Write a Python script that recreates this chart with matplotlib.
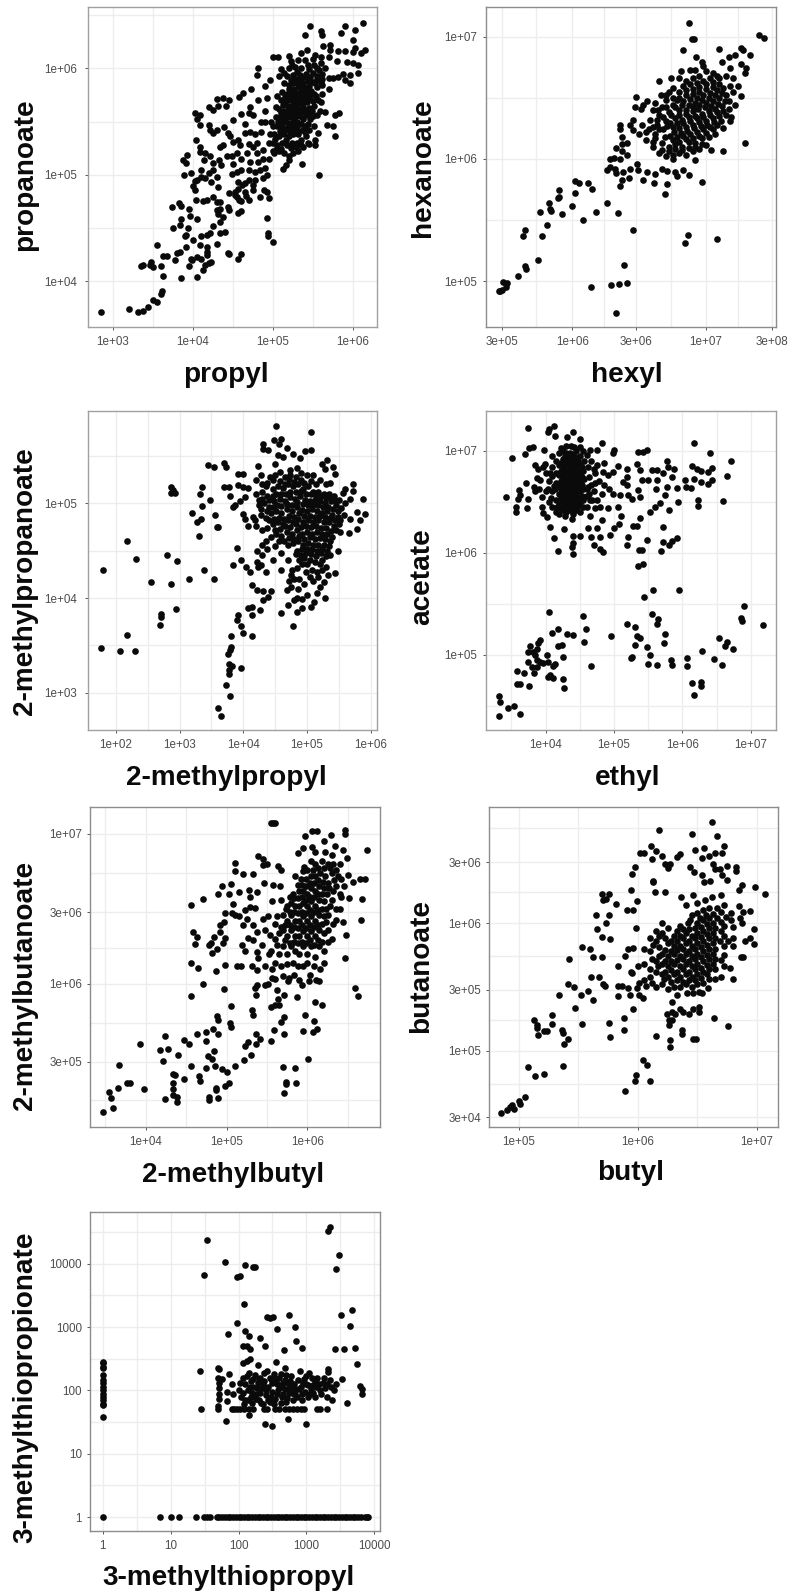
import numpy as np
import matplotlib
matplotlib.use('Agg')
import matplotlib.pyplot as plt

plt.rcParams['font.family'] = ['Liberation Sans', 'DejaVu Sans']

# all readings are log10(abundance), x then y
propyl_propanoate = [
    (2.85,3.71),(3.2,3.74),(3.32,3.71),(3.375,3.72),(3.44,3.76),(3.5,3.82),(3.55,3.8),(3.6,3.88),(3.62,3.91),(3.63,4.05),
    (3.36,4.14),(3.38,4.15),(3.475,4.18),(3.47,4.15),(3.51,4.13),(3.6,4.14),(3.63,4.235),(3.675,4.235),(3.55,4.335),(3.85,4.03),
    (3.78,4.2),(3.8,4.26),(3.84,4.275),(3.92,4.32),(3.95,4.14),(3.99,4.2),(3.98,4.21),(4.05,4.04),(4.05,4.23),(4.11,4.21),
    (4.13,4.1),(4.15,4.15),(4.21,4.17),(4.225,4.18),(4.09,4.34),(4.175,4.32),(4.18,4.275),(4.18,4.245),(4.3,4.345),(4.445,4.265),
    (4.46,4.25),(4.57,4.21),(4.61,4.255),(4.0,4.385),(3.92,4.43),(3.9,4.42),(3.76,4.5),(3.84,4.53),(3.855,4.58),(3.94,4.5),
    (3.97,4.61),(4.05,4.58),(3.95,4.68),(3.74,4.7),(3.83,4.73),(3.86,4.71),(4.04,4.76),(4.13,4.75),(4.18,4.76),(4.26,4.79),
    (4.3,4.745),(4.34,4.745),(4.3,4.67),(4.34,4.68),(4.32,4.635),(4.38,4.6),(4.34,4.56),(4.25,4.52),(4.11,4.42),(4.175,4.43),
    (4.22,4.45),(4.34,4.45),(4.4,4.46),(4.445,4.7),(4.46,4.67),(4.57,4.64),(4.61,4.66),(4.46,4.83),(4.53,4.84),(4.55,4.79),
    (4.58,4.76),(4.65,4.84),(4.7,4.76),(4.84,4.79),(4.95,4.78),(4.89,4.855),(4.925,4.84),(4.925,4.59),(4.94,4.455),(4.94,4.42),
    (5.01,4.365),(5.58,5.0),(5.37,5.1),(5.13,5.05),(5.17,5.09),(5.21,5.14),(5.78,5.36),(3.925,5.19),(3.88,5.14),(3.92,5.11),
    (3.89,5.0),(3.975,5.02),(4.05,4.95),(4.03,4.94),(4.0,4.89),(4.03,4.855),(4.11,5.04),(4.11,4.98),(4.2,5.02),(4.26,5.04),
    (4.23,4.93),(4.31,4.98),(4.32,4.88),(4.15,4.965),(4.04,5.325),(4.09,5.26),(4.09,5.21),(4.15,5.2),(4.14,5.14),(4.22,5.18),
    (4.25,5.11),(4.33,5.14),(4.36,5.09),(4.34,5.26),(4.38,5.28),(4.425,5.18),(4.49,5.18),(4.57,5.325),(4.47,5.36),(4.51,5.31),
    (4.03,5.58),(4.09,5.56),(4.05,5.52),(4.09,5.47),(4.2,5.47),(4.22,5.42),(4.26,5.39),(4.3,5.42),(4.39,5.445),(4.445,5.39),
    (4.2,5.64),(4.26,5.61),(4.32,5.645),(4.31,5.71),(4.375,5.72),(4.46,5.7),(4.42,5.645),(4.51,5.51),(4.6,5.57),(4.58,5.73),
    (4.625,5.77),(4.725,5.81),(4.81,5.94),(4.82,6.0),(4.72,5.64),(4.7,5.58),(4.65,5.48),(4.76,5.56),(4.82,5.7),(4.925,5.72),
    (4.9,5.83),(4.97,5.89),(5.01,6.11),(5.07,6.11),(4.65,5.39),(4.72,5.4),(4.7,5.29),(4.59,5.28),(4.675,5.2),(4.76,5.26),
    (4.8,5.2),(4.88,5.23),(4.88,5.15),(4.72,5.12),(4.7,5.04),(4.78,5.03),(4.9,5.06),(4.84,5.04),(4.49,5.01),(4.55,5.03),
    (4.61,5.04),(4.7,4.95),(4.78,4.95),(4.88,4.965),(4.925,5.0),(4.65,4.92),(4.57,4.935),(4.76,4.855),(4.57,4.87),(4.53,4.81),
    (5.47,6.4),(5.4,6.31),(5.6,6.355),(5.62,6.31),(5.9,6.4),(5.86,6.335),(6.025,6.365),(6.13,6.43),(6.0,6.27),(6.15,6.17),
    (6.03,6.19),(6.01,6.15),(6.1,6.14),(5.63,6.21),(5.72,6.22),(5.72,6.17),(5.82,6.16),(5.9,6.16),(5.43,6.17),(5.53,6.125),
    (5.61,6.11),(5.7,6.11),(5.8,6.07),(5.925,6.06),(6.01,6.05),(6.07,6.03),(6.07,5.96),(5.97,5.94),(5.97,5.86),(5.88,5.95),
    (5.82,5.92),(5.9,5.89),(5.7,5.91),(5.76,5.91),(5.7,5.81),(5.78,5.56),(5.83,5.58),(5.65,5.59),(5.59,5.6),(5.55,5.56),
    (5.675,5.47),(5.76,5.46),(5.57,5.395),(5.53,5.325),(5.45,5.285),(5.53,5.28),
    (5.02,5.2),(5.08,5.22),(5.14,5.2),(5.2,5.18),(5.26,5.2),(5.32,5.22),(5.38,5.26),(5.44,5.3),(5.0,5.3),(5.06,5.28),
    (5.12,5.3),(5.18,5.28),(5.24,5.3),(5.3,5.3),(5.36,5.33),(5.42,5.36),(5.02,5.38),(5.08,5.36),(5.14,5.38),(5.2,5.36),
    (5.26,5.38),(5.32,5.38),(5.38,5.42),(5.46,5.42),(5.0,5.46),(5.06,5.46),(5.12,5.46),(5.18,5.44),(5.24,5.46),(5.3,5.46),
    (5.36,5.48),(5.44,5.48),(5.52,5.46),(5.04,5.54),(5.1,5.54),(5.16,5.52),(5.22,5.54),(5.28,5.54),(5.34,5.55),(5.42,5.56),
    (5.5,5.55),(5.08,5.62),(5.14,5.6),(5.2,5.62),(5.26,5.62),(5.32,5.62),(5.38,5.64),(5.45,5.63),(5.52,5.65),(5.6,5.68),
    (5.1,5.7),(5.16,5.68),(5.22,5.7),(5.28,5.7),(5.34,5.7),(5.4,5.72),(5.47,5.71),(5.54,5.74),(5.62,5.76),(5.12,5.78),
    (5.18,5.76),(5.24,5.78),(5.3,5.77),(5.36,5.78),(5.42,5.8),(5.48,5.79),(5.55,5.82),(5.62,5.84),(5.14,5.86),(5.2,5.84),
    (5.26,5.86),(5.32,5.85),(5.38,5.86),(5.44,5.88),(5.5,5.87),(5.56,5.9),(5.62,5.9),(5.08,5.93),(5.18,5.93),(5.26,5.94),
    (5.34,5.94),(5.42,5.95),(5.5,5.96),(5.58,5.98),(5.66,6.0),(5.1,5.99),(5.2,6.0),(5.28,6.01),(5.36,6.0),(5.44,6.03),
    (5.52,6.03),(5.6,6.05),(5.23,6.07),(5.32,6.08),(5.4,6.08),(5.5,6.09),(5.2,6.12),(5.36,6.14),
    (5.05,5.25),(5.11,5.24),(5.17,5.33),(5.23,5.25),(5.29,5.26),(5.35,5.28),(5.41,5.4),(5.03,5.34),(5.09,5.41),(5.16,5.42),
    (5.22,5.41),(5.27,5.43),(5.33,5.41),(5.4,5.46),(5.47,5.52),(5.07,5.5),(5.13,5.5),(5.19,5.49),(5.25,5.5),(5.31,5.5),
    (5.38,5.52),(5.46,5.58),(5.11,5.58),(5.17,5.57),(5.23,5.58),(5.29,5.58),(5.35,5.59),(5.41,5.6),(5.49,5.6),(5.13,5.66),
    (5.19,5.65),(5.25,5.66),(5.31,5.66),(5.37,5.67),(5.43,5.68),(5.5,5.69),(5.57,5.7),(5.15,5.73),(5.21,5.73),(5.27,5.74),
    (5.33,5.74),(5.39,5.75),(5.45,5.75),(5.52,5.76),(5.2,5.81),(5.27,5.81),(5.33,5.82),(5.39,5.82),(5.46,5.83),(5.53,5.86),
    (5.6,5.87),(5.23,5.89),(5.29,5.9),(5.36,5.9),(5.41,5.92),(5.47,5.92),(5.55,5.93),(5.62,5.95),(5.14,5.96),(5.3,5.97),
    (5.46,5.99),(5.24,6.03),(5.56,6.0),(5.0,5.22),(4.97,5.38),(4.98,5.5),(5.04,5.64),(5.06,5.74),(4.5,5.1),(4.6,5.15),
    (4.8,5.3),(4.85,5.4),(4.9,5.5),(4.95,5.3),(4.55,5.2),(4.82,5.12),(4.95,5.15),(4.85,5.5),(4.9,5.6),(4.78,5.38),
    (4.62,4.9),(4.67,4.8),(4.6,4.75),(4.75,4.9),
]

hexyl_hexanoate = [
    (5.45,4.92),(5.46,4.92),(5.47,4.93),(5.48,4.99),(5.51,4.98),(5.505,4.95),(5.59,5.04),(5.645,5.125),(5.655,5.1),(5.74,5.17),
    (5.63,5.37),(5.645,5.415),(5.77,5.37),(5.81,5.46),(5.76,5.565),(5.84,5.575),(5.825,5.64),(5.92,5.55),(5.9,5.69),(5.9,5.745),
    (5.83,5.59),(5.89,5.68),(6.0,5.615),(6.02,5.72),(6.02,5.82),(6.05,5.805),(6.115,5.805),(6.15,5.75),(6.08,5.5),(6.18,5.565),
    (6.26,5.64),(6.34,5.56),(6.45,5.42),(6.14,4.95),(6.29,4.965),(6.35,4.975),(6.41,4.98),(6.385,5.13),(6.33,4.74),(6.865,5.375),
    (6.84,5.31),(7.085,5.34),(6.26,5.91),(6.28,5.935),(6.32,5.92),(6.33,5.88),(6.36,5.78),(6.375,5.83),(6.42,5.84),(6.38,5.89),
    (6.43,5.92),(6.28,6.0),(6.31,6.01),(6.36,5.995),(6.33,6.085),(6.375,6.125),(6.41,6.13),(6.37,6.06),(6.41,6.03),(6.36,6.275),
    (6.36,6.24),(6.375,6.175),(6.43,6.28),(6.455,6.315),(6.475,6.505),(6.465,6.42),(6.51,6.41),(6.53,6.44),(6.56,6.475),(6.455,6.235),
    (6.48,5.96),(6.49,5.91),(6.53,5.83),(6.555,5.89),(6.61,5.8),(6.62,5.875),(6.705,5.79),(6.695,5.71),(6.67,5.915),(6.705,5.9),
    (6.77,5.895),(6.78,5.86),(6.83,5.91),(6.87,5.87),(6.97,5.81),(6.92,5.99),(6.755,5.995),(6.87,7.115),(6.895,6.98),(6.91,6.98),
    (6.83,6.89),(6.925,6.835),(6.97,6.79),(7.1,6.9),(7.12,6.79),(7.17,6.83),(7.26,6.91),(7.28,6.89),(7.33,6.85),(7.395,7.015),
    (7.43,6.99),(7.22,6.85),(7.26,6.78),(7.3,6.74),(7.29,6.705),(6.645,6.635),(7.29,6.13),(7.13,6.06),(7.26,6.51),(7.18,6.31),
    (7.19,6.34),(7.17,6.41),(7.04,6.07),(6.5,6.2),(6.55,6.15),(6.6,6.1),(6.65,6.05),(6.7,6.02),(6.75,6.03),(6.8,6.05),
    (6.85,6.03),(6.9,6.06),(6.95,6.08),(7.0,6.11),(6.52,6.28),(6.57,6.24),(6.62,6.2),(6.67,6.13),(6.72,6.1),(6.77,6.12),
    (6.82,6.1),(6.87,6.14),(6.92,6.13),(6.97,6.17),(7.02,6.18),(7.07,6.2),(6.58,6.32),(6.63,6.28),(6.68,6.24),(6.73,6.19),
    (6.78,6.18),(6.83,6.19),(6.88,6.2),(6.93,6.22),(6.98,6.24),(7.03,6.26),(7.08,6.28),(7.13,6.25),(6.6,6.4),(6.65,6.36),
    (6.7,6.31),(6.75,6.26),(6.8,6.25),(6.85,6.26),(6.9,6.28),(6.95,6.3),(7.0,6.31),(7.05,6.33),(7.1,6.35),(7.15,6.36),
    (6.62,6.46),(6.67,6.42),(6.72,6.38),(6.77,6.33),(6.82,6.32),(6.87,6.34),(6.92,6.35),(6.97,6.37),(7.02,6.39),(7.07,6.41),
    (7.12,6.43),(7.17,6.47),(7.22,6.44),(6.7,6.48),(6.75,6.44),(6.8,6.4),(6.85,6.4),(6.9,6.42),(6.95,6.44),(7.0,6.46),
    (7.05,6.47),(7.1,6.5),(7.15,6.52),(7.2,6.55),(6.66,6.52),(6.72,6.55),(6.78,6.48),(6.83,6.47),(6.88,6.49),(6.93,6.5),
    (6.98,6.52),(7.03,6.54),(7.08,6.56),(7.13,6.58),(7.18,6.6),(7.24,6.6),(6.75,6.58),(6.8,6.55),(6.85,6.56),(6.9,6.57),
    (6.95,6.59),(7.0,6.61),(7.05,6.63),(7.1,6.66),(7.15,6.68),(7.2,6.66),(6.74,6.66),(6.8,6.66),(6.85,6.64),(6.9,6.66),
    (6.95,6.68),(7.0,6.72),(7.05,6.7),(6.81,6.72),(6.88,6.73),(6.92,6.73),(6.98,6.76),(7.18,6.74),
    (6.6,6.14),(6.67,6.07),(6.72,6.06),(6.77,6.08),(6.82,6.07),(6.87,6.09),(6.92,6.1),(6.97,6.12),(6.55,6.22),(6.62,6.17),
    (6.69,6.18),(6.75,6.15),(6.8,6.14),(6.85,6.16),(6.9,6.17),(6.95,6.19),(7.0,6.21),(7.05,6.24),(6.6,6.26),(6.65,6.24),
    (6.71,6.27),(6.76,6.22),(6.81,6.21),(6.86,6.23),(6.91,6.25),(6.96,6.27),(7.01,6.28),(7.06,6.3),(7.11,6.31),(6.63,6.32),
    (6.68,6.34),(6.73,6.29),(6.78,6.29),(6.83,6.29),(6.88,6.31),(6.93,6.33),(6.98,6.34),(7.03,6.36),(7.08,6.38),(7.13,6.39),
    (6.64,6.4),(6.7,6.42),(6.74,6.36),(6.8,6.36),(6.85,6.37),(6.9,6.39),(6.94,6.41),(6.99,6.42),(7.04,6.43),(7.09,6.45),
    (7.14,6.47),(6.7,6.52),(6.77,6.42),(6.82,6.44),(6.87,6.44),(6.92,6.46),(6.97,6.48),(7.02,6.5),(7.07,6.52),(7.12,6.54),
    (6.75,6.5),(6.8,6.5),(6.85,6.52),(6.9,6.53),(6.95,6.55),(7.0,6.57),(7.05,6.59),(7.1,6.61),(6.83,6.6),(6.88,6.61),
    (6.93,6.62),(6.98,6.64),(7.03,6.66),(7.08,6.68),
]

methylpropyl_propanoate = [
    (1.76,3.475),(1.79,4.295),(2.07,3.445),(2.3,3.445),(2.18,3.61),(2.17,4.6),(2.31,4.415),(2.545,4.17),(2.8,4.45),(2.96,4.395),
    (2.86,4.15),(3.15,4.2),(3.38,4.295),(3.545,4.205),(2.94,3.885),(2.71,3.83),(2.71,3.8),(2.69,3.71),(3.3,4.66),(3.27,4.8),
    (3.33,4.835),(3.2,4.895),(3.35,4.97),(3.32,5.1),(3.35,5.17),(3.47,5.035),(3.45,5.41),(3.545,5.38),(3.56,4.88),(3.58,4.75),
    (3.61,4.75),(2.86,5.17),(2.9,5.14),(2.86,5.105),(2.93,5.11),(3.69,5.43),(3.73,5.38),(3.7,5.17),(3.78,5.175),(3.79,5.08),
    (3.84,4.965),(3.87,4.98),(3.92,5.31),(3.99,5.31),(3.91,5.19),(4.0,5.17),(4.08,5.16),(4.03,5.07),(3.95,5.025),(4.0,4.89),
    (4.03,4.84),(4.08,4.76),(4.155,4.86),(4.18,4.82),(3.905,4.525),(3.97,4.4),(3.84,4.35),(4.05,4.33),(4.1,4.28),(4.21,4.385),
    (4.225,4.33),(4.13,4.14),(4.21,4.085),(4.31,4.075),(4.43,4.075),(4.31,3.98),(4.39,4.01),(4.27,3.87),(4.08,3.89),(4.13,3.91),
    (4.13,3.82),(4.6,3.84),(3.92,3.82),(3.905,3.77),(3.97,3.7),(3.99,3.63),(4.14,3.6),(3.81,3.6),(3.8,3.485),(3.79,3.45),
    (3.765,3.405),(3.78,3.3),(3.815,3.285),(3.775,3.245),(3.775,3.2),(3.97,3.26),(3.73,3.08),(3.79,2.96),(3.6,2.835),(3.645,2.755),
    (4.51,5.82),(5.06,5.755),(4.31,5.63),(4.48,5.67),(4.59,5.675),(4.565,5.63),(4.31,5.57),(4.39,5.565),(4.69,5.59),(4.55,5.51),
    (4.63,5.49),(4.775,5.52),(4.97,5.55),(5.07,5.56),(4.89,5.475),(4.5,5.42),(4.235,5.4),(5.32,5.46),(5.235,5.42),(5.41,5.38),
    (5.28,5.36),(4.85,5.37),(4.74,5.35),(5.885,5.045),(5.91,4.885),(5.72,5.2),(5.72,5.135),(5.6,5.15),(5.57,5.105),(5.675,5.05),
    (5.78,4.91),(5.83,4.82),(5.78,4.725),(5.665,4.69),(5.67,4.84),(5.6,5.0),(5.52,4.7),(5.49,4.5),(5.44,4.26),(5.28,4.0),
    (5.44,5.31),(5.36,5.22),(4.785,3.7),(4.85,3.855),(4.92,3.9),(5.06,3.91),(5.115,3.96),(5.15,4.05),(4.71,3.925),(4.79,3.98),
    (4.84,4.0),(4.92,3.985),(5.0,4.03),(4.68,4.085),(4.755,4.12),(4.86,4.1),(5.2,4.12),(5.26,4.17),(5.33,4.24),(5.23,4.4),
    (5.36,4.45),(4.2,5.25),(4.28,5.3),(4.35,5.18),(4.42,5.28),(4.5,5.3),(4.58,5.33),(4.66,5.28),(4.74,5.3),(4.82,5.28),
    (4.9,5.32),(5.0,5.3),(5.1,5.3),(5.2,5.25),(5.3,5.2),(4.2,5.1),(4.3,5.12),(4.38,5.08),(4.46,5.15),(4.54,5.18),
    (4.62,5.16),(4.7,5.2),(4.78,5.18),(4.86,5.2),(4.94,5.15),(5.02,5.18),(5.1,5.12),(5.18,5.12),(5.26,5.1),(5.34,5.1),
    (5.42,5.08),(5.5,5.04),(4.25,4.98),(4.33,5.0),(4.41,4.96),(4.49,5.02),(4.57,5.05),(4.65,5.03),(4.73,5.07),(4.81,5.05),
    (4.89,5.08),(4.97,5.04),(5.05,5.03),(5.13,5.04),(5.21,5.02),(5.29,5.0),(5.37,5.02),(5.45,4.98),(5.53,4.95),(4.2,4.76),
    (4.28,4.88),(4.36,4.85),(4.44,4.9),(4.52,4.92),(4.6,4.9),(4.68,4.94),(4.76,4.92),(4.84,4.96),(4.92,4.93),(5.0,4.92),
    (5.08,4.94),(5.16,4.92),(5.24,4.9),(5.32,4.92),(5.4,4.88),(5.48,4.86),(5.58,4.88),(4.3,4.72),(4.38,4.74),(4.46,4.78),
    (4.54,4.8),(4.62,4.78),(4.7,4.82),(4.78,4.8),(4.86,4.84),(4.94,4.8),(5.02,4.82),(5.1,4.8),(5.18,4.82),(5.26,4.8),
    (5.34,4.8),(5.42,4.76),(5.5,4.78),(4.3,4.56),(4.36,4.6),(4.44,4.65),(4.52,4.68),(4.6,4.66),(4.68,4.7),(4.76,4.68),
    (4.84,4.72),(4.92,4.68),(5.0,4.7),(5.08,4.68),(5.16,4.7),(5.24,4.68),(5.32,4.68),(5.4,4.64),(4.22,4.5),(4.3,4.45),
    (4.38,4.52),(4.5,4.55),(4.6,4.48),(4.7,4.56),(4.78,4.58),(4.86,4.6),(4.94,4.56),(5.02,4.58),(5.1,4.56),(5.18,4.56),
    (5.26,4.56),(5.34,4.55),(4.28,4.35),(4.36,4.28),(4.46,4.4),(4.82,4.46),(4.9,4.45),(4.98,4.48),(5.06,4.46),(5.14,4.44),
    (5.22,4.48),(5.3,4.44),(4.76,4.3),(4.84,4.32),(4.92,4.36),(5.0,4.36),(5.08,4.3),(5.16,4.28),(5.24,4.3),(5.3,4.33),
    (4.72,4.18),(4.8,4.2),(4.88,4.2),(4.96,4.15),(5.1,4.18),(5.18,4.22),
    (4.3,5.2),(4.38,5.22),(4.46,5.25),(4.58,5.24),(4.66,5.2),(4.72,5.26),(4.8,5.23),(4.9,5.25),(4.96,5.22),(5.06,5.24),
    (5.14,5.2),(4.24,5.04),(4.3,5.05),(4.4,5.04),(4.46,5.08),(4.52,5.1),(4.6,5.1),(4.67,5.1),(4.74,5.12),(4.82,5.12),
    (4.9,5.13),(4.98,5.1),(5.06,5.1),(5.14,5.08),(5.22,5.08),(5.3,5.06),(5.38,5.06),(5.46,5.03),(4.28,4.94),(4.37,4.92),
    (4.46,4.96),(4.53,4.98),(4.6,4.97),(4.69,4.99),(4.77,4.98),(4.85,5.01),(4.93,4.99),(5.01,4.98),(5.09,4.98),(5.17,4.98),
    (5.25,4.96),(5.33,4.96),(5.41,4.94),(5.49,4.92),(4.4,4.82),(4.48,4.84),(4.56,4.85),(4.64,4.84),(4.72,4.87),(4.8,4.86),
    (4.88,4.9),(4.96,4.87),(5.04,4.87),(5.12,4.86),(5.2,4.87),(5.28,4.86),(5.36,4.85),(5.44,4.82),(5.52,4.82),(4.5,4.72),
    (4.58,4.73),(4.66,4.76),(4.74,4.75),(4.82,4.78),(4.9,4.75),(4.98,4.76),(5.06,4.75),(5.14,4.76),(5.22,4.74),(5.3,4.74),
    (5.38,4.71),(5.46,4.72),(4.56,4.6),(4.64,4.6),(4.72,4.63),(4.8,4.62),(4.88,4.66),(4.96,4.62),(5.04,4.64),(5.12,4.62),
    (5.2,4.63),(5.28,4.62),(5.36,4.6),(4.84,4.5),(4.92,4.52),(5.0,4.52),(5.08,4.52),(5.16,4.5),(5.24,4.52),(5.32,4.5),
    (4.88,4.4),(4.96,4.42),(5.04,4.4),(5.12,4.38),(5.2,4.36),(4.7,4.4),(4.6,4.3),(4.75,4.24),(4.98,4.28),(5.05,4.22),
]

ethyl_acetate = [
    (3.31,4.4),(3.31,4.59),(3.33,4.54),(3.455,4.48),(3.53,4.5),(3.625,4.42),(3.76,4.69),(3.575,4.71),(3.625,4.71),(3.585,4.84),
    (3.68,4.82),(3.745,4.93),(3.795,4.88),(3.835,4.82),(3.87,4.875),(3.745,5.03),(3.77,5.08),(3.82,5.03),(3.87,5.06),(3.89,5.11),
    (3.92,5.14),(3.84,5.0),(3.87,4.95),(3.92,4.93),(3.965,4.915),(4.015,5.0),(4.04,4.93),(4.04,4.785),(4.065,4.8),(4.11,4.775),
    (4.11,4.89),(4.135,4.91),(4.05,5.415),(4.1,5.215),(4.185,5.255),(4.185,5.08),(4.245,5.09),(4.25,4.98),(4.26,4.76),(4.27,4.67),
    (4.31,5.2),(4.405,5.19),(4.55,5.38),(4.585,5.25),(4.565,5.12),(4.67,4.885),(4.95,5.18),(5.185,5.305),(5.3,5.275),(5.34,5.18),
    (5.38,5.16),(5.3,5.09),(5.25,4.97),(5.27,4.975),(5.49,5.07),(5.52,5.0),(5.5,4.905),(5.635,4.895),(5.55,5.395),(5.65,5.345),
    (5.635,5.3),(5.745,5.2),(5.73,5.11),(5.835,4.95),(5.855,4.895),(5.44,5.57),(5.575,5.635),(5.955,5.635),(6.07,4.97),(6.065,4.885),
    (6.145,4.72),(6.17,4.6),(6.27,4.73),(6.27,4.69),(6.29,5.04),(6.46,4.96),(6.53,5.165),(6.585,4.895),(6.625,5.08),(6.66,5.12),
    (6.735,5.06),(6.86,5.355),(6.88,5.325),(6.9,5.48),(7.185,5.295),(3.51,6.925),(3.42,6.55),(3.565,6.445),(3.565,6.4),(3.6,6.53),
    (3.615,6.615),(3.625,6.57),(3.71,6.68),(3.7,6.97),(3.745,7.225),(3.76,7.03),(3.82,7.04),(3.73,6.435),(3.745,6.53),(3.835,6.645),
    (3.845,6.6),(3.845,6.86),(3.89,6.825),(3.88,6.73),(3.92,6.71),(3.975,7.005),(3.99,6.87),(4.04,7.18),(4.05,7.21),(4.12,7.245),
    (4.135,7.145),(4.31,7.13),(4.395,7.18),(4.5,7.11),(3.94,6.45),(3.965,6.385),(4.015,6.35),(4.07,6.255),(4.12,6.145),(4.185,6.015),
    (4.27,6.23),(4.29,6.355),(4.405,6.165),(4.38,6.33),(4.405,6.09),(4.38,6.06),(4.395,5.985),(4.5,6.165),(4.65,6.355),(4.625,6.24),
    (4.67,6.15),(4.7,6.075),(4.795,6.04),(4.845,6.01),(4.795,6.155),(4.75,6.24),(4.82,6.32),(4.94,6.175),(5.0,6.24),(5.07,6.28),
    (5.1,6.36),(5.195,6.075),(5.21,6.15),(5.28,6.26),(5.34,6.26),(5.38,6.335),(5.365,6.025),(5.405,6.025),(5.49,6.125),(5.355,5.87),
    (5.42,5.89),(5.69,6.015),(5.72,6.1),(5.8,6.075),(5.845,6.11),(5.915,6.145),(5.72,6.25),(5.8,6.42),(6.17,7.08),(6.405,6.98),
    (6.71,6.9),(6.66,6.75),(6.435,6.835),(6.38,6.795),(6.28,6.805),(6.21,6.825),(6.135,6.85),(6.435,6.71),(6.37,6.67),(6.27,6.69),
    (6.17,6.72),(6.04,6.71),(6.055,6.645),(6.13,6.63),(6.6,6.505),(6.235,6.515),(6.235,6.46),(5.94,6.5),(5.915,6.63),(5.88,6.825),
    (5.77,6.9),(5.795,6.84),(5.845,6.745),(5.72,6.78),(5.77,6.64),(5.625,6.71),(5.55,6.81),(5.625,6.81),(5.49,7.005),(5.355,6.985),
    (5.43,6.985),(5.33,6.87),(5.38,6.81),(5.405,6.71),(5.5,6.71),(5.61,6.62),(5.745,6.565),(5.67,6.485),(5.6,6.45),(5.525,6.4),
    (4.82,7.08),(5.005,7.005),(4.99,6.98),(4.75,7.005),(4.65,7.005),(5.06,6.845),(4.99,6.795),(4.915,6.76),(4.845,6.795),(4.75,6.86),
    (5.195,6.825),(5.185,6.745),(5.13,6.695),(5.19,6.66),(4.99,6.58),(5.09,6.565),(5.21,6.565),(5.26,6.53),(5.355,6.615),(5.38,6.55),
    (5.06,6.45),(4.915,6.435),(4.795,6.45),(4.75,6.515),(4.65,6.52),
    (4.0,6.6),(4.05,6.5),(4.1,6.45),(4.15,6.4),(4.2,6.38),(4.25,6.42),(4.3,6.4),(4.35,6.42),(4.4,6.38),(4.45,6.42),
    (4.5,6.4),(4.55,6.45),(4.6,6.45),(4.05,6.7),(4.1,6.6),(4.15,6.52),(4.2,6.48),(4.25,6.5),(4.3,6.48),(4.35,6.5),
    (4.4,6.48),(4.45,6.5),(4.5,6.5),(4.55,6.52),(4.6,6.56),(4.68,6.52),(4.1,6.75),(4.15,6.68),(4.2,6.58),(4.25,6.58),
    (4.3,6.56),(4.35,6.58),(4.4,6.56),(4.45,6.58),(4.5,6.6),(4.55,6.62),(4.62,6.64),(4.7,6.6),(4.0,6.78),(4.1,6.84),
    (4.15,6.78),(4.2,6.66),(4.25,6.66),(4.3,6.64),(4.35,6.66),(4.4,6.64),(4.45,6.66),(4.5,6.68),(4.56,6.72),(4.64,6.74),
    (4.15,6.9),(4.2,6.76),(4.25,6.74),(4.3,6.72),(4.35,6.74),(4.4,6.72),(4.45,6.74),(4.5,6.76),(4.55,6.8),(4.62,6.84),
    (4.72,6.78),(4.1,6.95),(4.2,6.86),(4.25,6.84),(4.3,6.8),(4.35,6.82),(4.4,6.8),(4.45,6.82),(4.5,6.86),(4.56,6.9),
    (4.2,6.98),(4.25,6.92),(4.3,6.9),(4.35,6.9),(4.4,6.88),(4.45,6.92),(4.5,6.95),(4.6,6.96),(4.25,7.0),(4.3,6.98),
    (4.35,6.98),(4.4,6.96),(4.45,7.0),(4.55,7.0),(4.3,7.05),(4.37,7.05),(4.42,7.04),(4.5,7.04),(4.22,7.03),
    (4.22,6.44),(4.28,6.46),(4.33,6.44),(4.38,6.46),(4.43,6.44),(4.48,6.46),(4.22,6.54),(4.28,6.52),(4.33,6.54),(4.38,6.52),
    (4.43,6.54),(4.48,6.54),(4.53,6.56),(4.23,6.62),(4.28,6.6),(4.33,6.62),(4.38,6.6),(4.43,6.62),(4.48,6.63),(4.53,6.66),
    (4.23,6.7),(4.28,6.69),(4.33,6.7),(4.38,6.68),(4.43,6.7),(4.48,6.72),(4.53,6.74),(4.23,6.8),(4.28,6.78),(4.33,6.78),
    (4.38,6.76),(4.43,6.78),(4.48,6.8),(4.53,6.84),(4.23,6.88),(4.28,6.86),(4.33,6.86),(4.38,6.84),(4.43,6.86),(4.48,6.9),
    (4.28,6.95),(4.33,6.94),(4.38,6.92),(4.43,6.94),(3.95,6.55),(3.9,6.62),(4.03,6.62),(4.08,6.54),(4.12,6.65),(4.06,6.78),
    (3.96,6.84),(4.14,6.62),(4.17,6.45),(4.6,6.62),(4.66,6.66),(4.72,6.68),(4.56,6.55),(4.64,6.58),(4.72,6.44),(4.82,6.58),
    (4.86,6.66),(4.92,6.62),(4.78,6.7),(4.86,6.88),(4.66,6.9),(4.7,6.82),
]

methylbutyl_butanoate = [
    (3.47,5.14),(3.6,5.17),(3.575,5.24),(3.545,5.275),(3.66,5.305),(3.765,5.34),(3.81,5.34),(3.675,5.46),(3.975,5.3),(3.935,5.6),
    (4.18,5.56),(4.27,5.565),(4.245,5.65),(4.22,5.485),(4.245,5.23),(4.335,5.335),(4.335,5.4),(4.365,5.39),(4.34,5.295),(4.34,5.255),
    (4.385,5.245),(4.385,5.21),(4.405,5.525),(4.48,5.625),(4.53,5.6),(4.48,5.365),(4.555,5.45),(4.63,5.665),(4.66,5.385),(4.67,5.35),
    (4.74,5.675),(4.745,5.62),(4.745,5.435),(4.785,5.245),(4.785,5.22),(4.775,5.515),(4.815,5.5),(4.845,5.55),(4.86,5.45),(4.83,5.7),
    (4.895,5.665),(4.865,5.305),(4.87,5.29),(4.895,5.24),(4.94,5.43),(5.0,5.41),(4.98,5.315),(5.03,5.335),(5.105,5.45),(5.045,5.74),
    (5.055,5.71),(4.885,5.785),(4.895,5.755),(5.06,5.85),(5.215,5.49),(5.23,5.585),(5.27,5.61),(5.3,5.525),(5.37,5.665),(5.37,5.6),
    (5.42,5.63),(5.55,5.62),(5.59,5.69),(5.705,5.665),(5.68,5.745),(5.71,5.775),(5.94,5.685),(5.975,5.79),(6.075,5.675),(6.12,5.695),
    (6.08,5.75),(6.095,5.875),(6.175,5.855),(6.01,5.495),(5.85,5.44),(5.695,5.445),(5.73,5.345),(5.73,5.33),(5.865,5.335),(5.71,5.27),
    (5.31,5.825),(5.33,5.79),(5.545,5.845),(5.6,5.855),(5.65,5.86),(5.87,5.91),(6.585,5.97),(6.625,5.92),(4.555,5.915),(4.71,6.0),
    (4.97,5.965),(4.865,6.085),(4.98,6.125),(5.135,6.115),(5.18,6.115),(5.31,6.12),(5.375,6.09),(5.35,5.97),(5.375,5.99),(5.365,5.925),
    (5.475,5.99),(5.515,6.0),(5.56,6.035),(5.56,6.1),(5.62,5.96),(5.705,5.925),(5.64,5.9),(5.775,6.035),(5.765,6.015),(5.89,6.115),
    (5.9,6.025),(5.93,5.99),(6.035,6.06),(6.11,6.025),(6.16,6.1),(4.565,6.135),(4.65,6.105),(4.605,6.265),(4.63,6.315),(4.59,6.345),
    (4.785,6.26),(4.81,6.27),(4.84,6.31),(4.825,6.205),(4.885,6.23),(4.98,6.305),(4.96,6.27),(4.92,6.345),(4.92,6.39),(4.97,6.41),
    (4.985,6.47),(4.9,6.6),(4.94,6.65),(5.025,6.6),(5.055,6.665),(5.155,6.615),(5.085,6.53),(4.715,6.565),(4.565,6.525),(5.1,6.805),
    (5.1,6.755),(5.2,6.735),(5.33,6.735),(5.395,6.85),(5.455,6.835),(5.455,6.79),(5.5,6.8),(5.55,7.075),(5.6,7.07),(5.58,7.07),
    (5.64,6.785),(5.68,6.76),(5.465,6.67),(5.375,6.615),(5.28,6.625),(5.295,6.58),(5.065,6.47),(5.105,6.46),(5.16,6.45),(5.23,6.49),
    (5.295,6.515),(5.355,6.505),(5.25,6.435),(5.21,6.39),(5.33,6.39),(5.375,6.345),(5.27,6.305),(5.33,6.29),(5.19,6.26),(5.23,6.22),
    (5.375,6.215),(5.435,6.26),(5.395,6.17),(5.475,6.36),(5.54,6.325),(5.455,6.435),(5.51,6.45),(5.56,6.55),(5.58,6.66),(5.66,6.65),
    (6.74,6.89),(6.665,6.425),(6.68,6.565),(6.65,6.7),(6.715,6.7),(6.57,6.68),(6.505,6.725),(6.46,7.025),(6.465,7.0),(6.34,6.92),
    (6.29,6.995),(6.115,7.02),(6.055,7.02),(5.97,6.985),(6.2,6.95),(6.44,6.895),(6.485,6.84),(5.94,6.905),(5.89,6.87),(6.06,6.915),
    (6.46,6.17),(6.475,6.325),(6.445,6.415),(6.36,6.425),(6.41,6.5),
    (5.55,6.22),(5.6,6.3),(5.65,6.2),(5.7,6.25),(5.75,6.2),(5.8,6.25),(5.85,6.22),(5.9,6.2),(5.95,6.25),(6.0,6.2),
    (6.05,6.25),(6.1,6.18),(6.15,6.25),(6.2,6.22),(6.25,6.28),(6.3,6.3),(5.6,6.4),(5.65,6.34),(5.7,6.36),(5.75,6.32),
    (5.8,6.36),(5.85,6.32),(5.9,6.32),(5.95,6.35),(6.0,6.32),(6.05,6.35),(6.1,6.32),(6.15,6.36),(6.2,6.34),(6.25,6.36),
    (6.32,6.4),(5.62,6.45),(5.7,6.46),(5.75,6.42),(5.8,6.46),(5.85,6.42),(5.9,6.42),(5.95,6.45),(6.0,6.42),(6.05,6.45),
    (6.1,6.42),(6.15,6.46),(6.2,6.45),(6.26,6.46),(6.36,6.5),(5.68,6.56),(5.75,6.52),(5.8,6.54),(5.85,6.52),(5.9,6.52),
    (5.95,6.54),(6.0,6.52),(6.05,6.55),(6.1,6.52),(6.15,6.56),(6.2,6.55),(6.3,6.56),(6.42,6.58),(6.52,6.57),(5.82,6.6),
    (5.9,6.62),(5.95,6.62),(6.0,6.6),(6.05,6.64),(6.1,6.62),(6.15,6.65),(6.2,6.64),(6.27,6.64),(6.35,6.65),(6.45,6.65),
    (5.85,6.72),(5.92,6.7),(5.98,6.7),(6.04,6.72),(6.1,6.72),(6.16,6.74),(6.22,6.72),(6.3,6.74),(6.38,6.72),(5.96,6.78),
    (6.04,6.82),(6.1,6.8),(6.18,6.82),(6.25,6.8),(6.32,6.8),(6.4,6.8),(6.1,6.88),(6.22,6.88),(6.3,6.86),
    (5.72,6.29),(5.78,6.27),(5.83,6.28),(5.88,6.27),(5.93,6.28),(5.98,6.27),(6.03,6.29),(6.08,6.26),(6.13,6.29),(6.18,6.28),
    (5.63,6.26),(5.67,6.38),(5.72,6.39),(5.78,6.39),(5.83,6.38),(5.88,6.37),(5.93,6.39),(5.98,6.37),(6.03,6.39),(6.08,6.38),
    (6.13,6.39),(6.18,6.4),(6.23,6.41),(5.73,6.5),(5.78,6.48),(5.83,6.48),(5.88,6.47),(5.93,6.48),(5.98,6.47),(6.03,6.49),
    (6.08,6.48),(6.13,6.49),(6.18,6.5),(6.23,6.5),(6.28,6.52),(5.78,6.58),(5.84,6.57),(5.88,6.57),(5.93,6.58),(5.98,6.56),
    (6.03,6.58),(6.08,6.58),(6.13,6.6),(6.18,6.6),(6.24,6.6),(6.32,6.62),(6.4,6.6),(5.88,6.66),(5.93,6.66),(5.98,6.65),
    (6.03,6.67),(6.08,6.67),(6.13,6.69),(6.19,6.68),(6.25,6.67),(6.33,6.69),(6.42,6.7),(5.94,6.75),(6.0,6.76),(6.07,6.76),
    (6.13,6.77),(6.2,6.77),(6.28,6.77),(6.36,6.76),(5.6,6.14),(5.68,6.12),(5.75,6.13),(5.82,6.14),(5.94,6.12),(6.0,6.14),
    (6.08,6.12),(6.2,6.14),(5.6,6.03),(5.7,6.05),(5.84,6.06),(6.02,6.02),(6.15,6.02),(5.52,6.2),(5.48,6.12),
]

butyl_butanoate = [
    (4.855,4.515),(4.905,4.535),(4.93,4.56),(4.94,4.575),(4.96,4.54),(5.0,4.61),(5.01,4.58),(5.055,4.64),(5.14,4.8),(5.21,4.815),
    (5.08,4.875),(5.37,4.88),(5.125,5.24),(5.15,5.205),(5.15,5.18),(5.16,5.12),(5.21,5.155),(5.235,5.155),(5.28,5.28),(5.28,5.21),
    (5.36,5.16),(5.375,5.135),(5.415,5.095),(5.38,5.055),(5.34,5.435),(5.41,5.525),(5.465,5.5),(5.47,5.335),(5.52,5.44),(5.535,5.21),
    (5.58,5.47),(5.625,5.4),(5.605,5.58),(5.675,5.575),(5.71,5.525),(5.72,5.51),(5.42,5.715),(5.53,5.81),(5.6,5.8),(5.62,5.735),
    (5.7,5.73),(5.835,5.665),(5.66,5.95),(5.7,5.89),(5.765,5.875),(5.73,6.0),(5.65,6.06),(5.76,6.06),(5.815,6.145),(5.695,6.23),
    (5.76,6.225),(5.71,6.18),(5.73,6.19),(5.905,6.1),(5.955,6.1),(5.995,6.17),(5.94,6.255),(5.985,5.96),(5.76,5.22),(5.765,5.105),
    (5.88,5.26),(5.88,5.16),(5.955,5.325),(5.835,5.51),(5.87,5.51),(5.92,5.49),(5.93,5.435),(5.835,5.425),(5.99,5.49),(6.01,5.435),
    (6.045,5.415),(5.895,5.745),(5.92,5.8),(5.96,5.805),(5.95,5.605),(5.94,5.62),(6.0,5.66),(6.005,5.53),(6.07,5.51),(5.95,6.385),
    (5.975,6.44),(6.02,6.55),(6.05,6.545),(6.11,6.6),(6.15,6.565),(6.115,6.5),(6.125,6.33),(6.13,6.32),(6.145,6.245),(6.23,6.245),
    (6.2,6.525),(6.23,6.46),(6.25,6.43),(6.27,6.46),(6.18,6.73),(6.33,6.515),(6.355,6.54),(6.45,6.7),(6.48,6.57),(6.555,6.59),
    (6.535,6.51),(6.6,6.525),(6.625,6.79),(6.665,6.68),(6.72,6.6),(6.705,6.55),(6.65,6.55),(6.63,6.465),(6.44,6.435),(6.47,6.4),
    (6.535,6.375),(6.65,6.425),(6.69,6.425),(6.745,6.45),(6.825,6.44),(6.825,6.41),(6.705,6.375),(6.745,6.335),(6.555,6.32),(6.605,6.325),
    (6.985,6.28),(7.07,6.23),(6.875,6.3),(6.845,6.26),(6.85,6.135),(6.885,6.09),(6.94,6.095),(6.97,5.95),(6.975,5.835),(6.94,5.88),
    (6.87,6.0),(6.8,5.97),(6.865,5.73),(6.885,5.73),(6.8,5.56),(6.77,5.645),(6.755,5.195),(6.635,5.26),(6.24,5.29),(6.285,5.24),
    (6.265,5.2),(6.265,5.24),(6.27,5.085),(6.27,5.03),(6.37,5.16),(6.37,5.13),(6.465,5.09),(6.485,5.095),(6.15,5.115),(6.04,4.93),
    (6.08,4.89),(5.985,4.81),(5.975,4.76),(6.1,4.76),(5.895,4.685),(6.285,5.305),(6.31,5.29),(6.355,5.33),(6.38,5.305),(6.425,5.29),
    (6.46,5.33),(6.515,5.345),(6.515,5.3),(6.285,5.385),(6.325,5.435),(6.41,5.45),(6.46,5.45),(6.51,5.46),(6.59,5.49),(6.535,5.45),
    (6.05,5.55),(6.1,5.58),(6.15,5.5),(6.2,5.52),(6.25,5.48),(6.3,5.5),(6.35,5.5),(6.4,5.52),(6.45,5.5),(6.5,5.52),
    (6.55,5.53),(6.6,5.56),(6.65,5.56),(6.7,5.58),(6.1,5.64),(6.15,5.62),(6.2,5.6),(6.25,5.58),(6.3,5.6),(6.35,5.58),
    (6.4,5.6),(6.45,5.58),(6.5,5.6),(6.55,5.62),(6.6,5.64),(6.65,5.64),(6.72,5.66),(6.05,5.68),(6.15,5.7),(6.2,5.68),
    (6.25,5.66),(6.3,5.68),(6.35,5.66),(6.4,5.68),(6.45,5.66),(6.5,5.68),(6.55,5.7),(6.6,5.72),(6.65,5.72),(6.72,5.75),
    (6.05,5.8),(6.1,5.78),(6.2,5.76),(6.25,5.74),(6.3,5.76),(6.35,5.74),(6.4,5.76),(6.45,5.74),(6.5,5.76),(6.55,5.78),
    (6.6,5.8),(6.65,5.8),(6.72,5.82),(6.8,5.82),(6.1,5.88),(6.15,5.86),(6.25,5.84),(6.3,5.82),(6.35,5.82),(6.4,5.84),
    (6.45,5.82),(6.5,5.84),(6.55,5.86),(6.6,5.88),(6.65,5.88),(6.72,5.9),(6.8,5.88),(6.9,5.86),(6.15,5.94),(6.2,5.92),
    (6.3,5.9),(6.35,5.9),(6.4,5.92),(6.45,5.9),(6.5,5.92),(6.55,5.94),(6.6,5.96),(6.65,5.96),(6.72,5.98),(6.2,6.0),
    (6.35,5.98),(6.42,6.0),(6.5,6.0),(6.55,6.02),(6.6,6.04),(6.66,6.04),(6.74,6.05),(6.45,6.06),(6.5,6.08),(6.55,6.1),
    (6.6,6.12),(6.66,6.12),(6.72,6.14),(6.4,6.14),(6.5,6.16),(6.56,6.18),(6.62,6.2),(6.7,6.22),(6.46,6.22),(6.36,6.2),
    (6.12,5.53),(6.22,5.56),(6.28,5.54),(6.33,5.55),(6.38,5.54),(6.43,5.55),(6.48,5.55),(6.53,5.57),(6.58,5.6),(6.17,5.66),
    (6.23,5.62),(6.28,5.63),(6.33,5.62),(6.38,5.64),(6.43,5.62),(6.48,5.64),(6.53,5.65),(6.58,5.67),(6.63,5.68),(6.12,5.72),
    (6.18,5.74),(6.23,5.7),(6.28,5.7),(6.33,5.71),(6.38,5.72),(6.43,5.7),(6.48,5.72),(6.53,5.73),(6.58,5.75),(6.63,5.76),
    (6.7,5.71),(6.13,5.83),(6.18,5.81),(6.23,5.79),(6.28,5.78),(6.33,5.79),(6.38,5.8),(6.43,5.78),(6.48,5.8),(6.53,5.81),
    (6.58,5.83),(6.63,5.84),(6.69,5.86),(6.76,5.86),(6.18,5.9),(6.23,5.88),(6.28,5.86),(6.33,5.86),(6.38,5.88),(6.43,5.86),
    (6.48,5.88),(6.53,5.89),(6.58,5.91),(6.63,5.92),(6.7,5.94),(6.25,5.96),(6.33,5.94),(6.38,5.95),(6.43,5.95),(6.48,5.96),
    (6.53,5.97),(6.58,5.99),(6.63,6.0),(6.7,6.01),(6.78,6.02),(6.44,6.02),(6.52,6.04),(6.57,6.06),(6.63,6.07),(6.7,6.09),
    (6.78,6.08),(6.86,6.04),
]

mtp_x0_y = [2.45,2.43,2.37,2.35,2.24,2.16,2.11,2.05,2.0,1.95,1.9,1.85,1.79,1.77,1.58,0.0]

mtp_line_x = [
    0.84,1.0,1.12,1.38,1.49,1.53,1.58,1.68,1.72,1.76,1.8,1.84,1.88,1.92,1.96,2.0,2.04,2.08,2.12,2.16,
    2.2,2.24,2.28,2.32,2.36,2.4,2.44,2.48,2.52,2.56,2.6,2.64,2.68,2.72,2.76,2.8,2.84,2.88,2.92,2.96,
    3.0,3.04,3.08,3.12,3.16,3.2,3.24,3.28,3.32,3.36,3.4,3.44,3.48,3.52,3.56,3.6,3.64,3.68,3.72,3.76,
    3.8,3.86,3.89,3.9,
]

mtp_points = [
    (1.54,4.38),(1.49,3.82),(1.8,4.03),(2.09,3.98),(1.985,3.785),(2.02,3.8),(2.215,3.94),(2.24,3.95),(3.34,4.58),(3.315,4.515),
    (3.475,4.13),(3.43,3.915),(2.08,3.37),(1.985,3.07),(1.85,2.89),(2.09,2.94),(2.15,2.86),(2.06,2.705),(2.12,2.705),(2.175,2.65),
    (2.32,2.83),(2.39,2.695),(2.425,3.16),(2.47,3.15),(2.51,3.16),(2.57,2.975),(2.74,3.19),(2.83,3.005),(2.845,2.78),(2.93,2.67),
    (2.665,2.63),(3.415,2.66),(3.55,2.65),(3.71,2.67),(3.645,3.02),(3.675,3.27),(3.505,3.19),(3.75,2.41),(1.43,2.31),(1.445,1.7),
    (1.7,2.36),(1.71,2.335),(1.86,2.26),(1.7,2.19),(1.75,2.175),(1.71,2.11),(1.71,2.04),(1.71,1.95),(1.71,1.87),(1.7,1.76),
    (1.7,1.7),(1.83,1.83),(1.83,1.98),(1.9,2.1),(1.815,1.52),(1.92,1.95),(3.525,2.175),(3.59,1.8),(3.79,2.07),(3.82,2.02),
    (3.82,1.95),(3.32,2.33),(3.31,2.29),(3.37,1.85),(3.295,1.89),(2.39,1.47),(2.495,1.44),(2.725,1.55),(3.0,1.47),(2.155,1.61),
    (2.07,2.43),(2.12,2.46),(2.175,2.495),(2.55,2.45),(2.29,2.4),(2.69,2.36),(1.9,1.7),(1.94,1.7),(1.98,1.7),(2.02,1.7),
    (2.08,1.7),(2.16,1.7),(2.22,1.7),(2.38,1.7),(2.42,1.7),(2.54,1.7),(2.6,1.7),(2.68,1.7),(2.74,1.7),(2.8,1.7),
    (2.86,1.7),(2.92,1.7),(2.96,1.7),(3.16,1.7),(3.2,1.7),(3.3,1.7),
    (2.0,2.0),(2.04,1.9),(2.06,2.2),(2.1,2.1),(2.1,1.85),(2.14,2.0),(2.16,2.28),(2.18,1.9),(2.18,2.14),(2.2,1.8),
    (2.22,2.05),(2.24,2.24),(2.26,1.95),(2.28,2.12),(2.3,1.85),(2.32,2.2),(2.34,2.04),(2.36,1.78),(2.38,2.14),(2.4,1.92),
    (2.42,2.3),(2.44,2.06),(2.46,1.82),(2.48,2.18),(2.5,1.98),(2.52,2.26),(2.54,1.86),(2.56,2.1),(2.58,2.0),(2.6,2.2),
    (2.62,1.8),(2.64,2.06),(2.66,1.94),(2.68,2.16),(2.7,2.24),(2.72,1.88),(2.74,2.04),(2.76,2.14),(2.78,1.96),(2.8,1.84),
    (2.82,2.1),(2.84,2.02),(2.86,1.9),(2.9,2.3),(2.92,2.06),(2.94,1.84),(2.96,2.18),(2.98,1.98),(3.0,2.1),(3.02,1.9),
    (3.04,2.28),(3.06,2.02),(3.08,2.2),(3.1,1.96),(3.12,2.14),(3.14,2.06),(3.16,2.2),(3.2,2.0),(3.24,2.12),(3.28,2.04),
    (2.02,2.12),(2.06,1.96),(2.08,1.78),(2.12,2.22),(2.14,1.84),(2.17,2.06),(2.2,1.96),(2.22,2.18),(2.25,1.86),(2.27,2.04),
    (2.3,2.18),(2.31,1.96),(2.33,1.8),(2.36,2.1),(2.38,2.28),(2.41,2.0),(2.44,1.84),(2.46,2.2),(2.48,1.9),(2.5,2.12),
    (2.52,1.78),(2.55,2.18),(2.57,1.94),(2.59,2.08),(2.62,2.26),(2.64,1.9),(2.66,2.12),(2.68,2.02),(2.7,1.82),(2.73,2.12),
    (2.75,1.96),(2.77,2.22),(2.8,2.06),(2.83,1.94),(2.87,2.16),(2.89,2.02),(2.93,1.94),(2.95,2.12),(2.99,2.22),(3.02,2.08),
    (3.05,1.94),(3.09,2.08),(3.12,1.9),(3.18,2.1),(3.22,1.94),(3.26,2.2),(3.3,2.1),(3.36,2.06),(3.4,2.0),(3.44,2.1),(3.34,2.16),
]

LOG_TICK_GRID = dict(color='#ededed', lw=1.0, zorder=0)
W, H = 799, 1594

fig = plt.figure(figsize=(W / 100, H / 100), dpi=100)


def panel(box, pts, xlim, ylim, xticks, xlabels, yticks, ylabels, xminor, yminor,
          xname, yname, xpos, ypos, spine='#8c8c8c', ypad=4):
    # box is left, top, right, bottom in pixels of the whole figure
    l, t, r, b = box
    ax = fig.add_axes([l / W, 1 - b / H, (r - l) / W, (b - t) / H])
    x = 10 ** np.array([p[0] for p in pts])
    y = 10 ** np.array([p[1] for p in pts])
    ax.set_xscale('log')
    ax.set_yscale('log')
    for v in list(xticks) + list(xminor):
        ax.axvline(v, **LOG_TICK_GRID)
    for v in list(yticks) + list(yminor):
        ax.axhline(v, **LOG_TICK_GRID)
    ax.scatter(x, y, s=23, c='#0a0a0a', linewidths=0, zorder=3)
    ax.set_xlim(10 ** xlim[0], 10 ** xlim[1])
    ax.set_ylim(10 ** ylim[0], 10 ** ylim[1])
    ax.set_xticks(xticks, xlabels)
    ax.set_yticks(yticks, ylabels)
    ax.minorticks_off()
    ax.tick_params(length=2, width=0.7, color='#555555', labelcolor='#4d4d4d', labelsize=8.4)
    ax.tick_params(axis='x', pad=4.5)
    ax.tick_params(axis='y', pad=ypad)
    for s in ax.spines.values():
        s.set_color(spine)
        s.set_linewidth(1.0)
    fig.text(xpos[0] / W, 1 - xpos[1] / H, xname, ha='center', va='center', fontsize=20.1,
             fontweight='bold', color='#0a0a0a')
    fig.text(ypos[0] / W, 1 - ypos[1] / H, yname, ha='center', va='center', rotation=90, fontsize=20.1,
             fontweight='bold', color='#0a0a0a')
    return ax


panel((88.3, 7.3, 377.3, 326.7), propyl_propanoate, (2.696, 6.308), (3.571, 6.574),
      [1e3, 1e4, 1e5, 1e6], ['1e+03', '1e+04', '1e+05', '1e+06'],
      [1e4, 1e5, 1e6], ['1e+04', '1e+05', '1e+06'],
      [10 ** 3.5, 10 ** 4.5, 10 ** 5.5], [10 ** 4.5, 10 ** 5.5, 10 ** 6.5],
      'propyl', 'propanoate', (226, 375), (25, 175), spine='#a0a0a0', ypad=6.4)

panel((486, 7.3, 775.7, 326.7), hexyl_hexanoate, (5.354, 7.521), (4.626, 7.24),
      [3e5, 1e6, 3e6, 1e7, 3.1e7], ['3e+05', '1e+06', '3e+06', '1e+07', '3e+08'],
      [1e5, 1e6, 1e7], ['1e+05', '1e+06', '1e+07'],
      [10 ** 5.73, 10 ** 6.24, 10 ** 6.74, 10 ** 7.24], [10 ** 5.5, 10 ** 6.5],
      'hexyl', 'hexanoate', (627, 375), (423, 168), ypad=4.2)

panel((88.3, 410.7, 377.3, 730), methylpropyl_propanoate, (1.565, 6.105), (2.606, 5.979),
      [1e2, 1e3, 1e4, 1e5, 1e6], ['1e+02', '1e+03', '1e+04', '1e+05', '1e+06'],
      [1e3, 1e4, 1e5], ['1e+03', '1e+04', '1e+05'],
      [10 ** 2.5, 10 ** 3.5, 10 ** 4.5, 10 ** 5.5], [10 ** 3.5, 10 ** 4.5, 10 ** 5.5],
      '2-methylpropyl', '2-methylpropanoate', (226.7, 778), (25, 581), spine='#a0a0a0', ypad=5.9)

panel((486, 410.7, 775.7, 730), ethyl_acetate, (3.127, 7.366), (4.261, 7.392),
      [1e4, 1e5, 1e6, 1e7], ['1e+04', '1e+05', '1e+06', '1e+07'],
      [1e5, 1e6, 1e7], ['1e+05', '1e+06', '1e+07'],
      [10 ** 3.5, 10 ** 4.5, 10 ** 5.5, 10 ** 6.5], [10 ** 4.5, 10 ** 5.5, 10 ** 6.5],
      'ethyl', 'acetate', (627.7, 778), (422, 577), spine='#a0a0a0', ypad=4.2)

panel((90, 807.3, 379.7, 1126.7), methylbutyl_butanoate, (3.311, 6.895), (5.045, 7.178),
      [1e4, 1e5, 1e6], ['1e+04', '1e+05', '1e+06'],
      [3e5, 1e6, 3e6, 1e7], ['3e+05', '1e+06', '3e+06', '1e+07'],
      [10 ** 3.5, 10 ** 4.5, 10 ** 5.5, 10 ** 6.5], [10 ** 5.22, 10 ** 5.74, 10 ** 6.24, 10 ** 6.74],
      '2-methylbutyl', '2-methylbutanoate', (233, 1175), (25, 985), ypad=3.7)

panel((488.7, 807.3, 777.7, 1126.7), butyl_butanoate, (4.748, 7.173), (4.405, 6.906),
      [1e5, 1e6, 1e7], ['1e+05', '1e+06', '1e+07'],
      [3e4, 1e5, 3e5, 1e6, 3e6], ['3e+04', '1e+05', '3e+05', '1e+06', '3e+06'],
      [10 ** 5.5, 10 ** 6.5], [10 ** 4.74, 10 ** 5.24, 10 ** 5.74, 10 ** 6.24, 10 ** 6.74],
      'butyl', 'butanoate', (631, 1173), (421, 966), ypad=3.6)

mtp_all = [(0.0, v) for v in mtp_x0_y] + [(v, 0.0) for v in mtp_line_x] + mtp_points
panel((90, 1211.7, 379.7, 1531), mtp_all, (-0.186, 4.078), (-0.221, 4.821),
      [1, 10, 100, 1000, 10000], ['1', '10', '100', '1000', '10000'],
      [1, 10, 100, 1000, 10000], ['1', '10', '100', '1000', '10000'],
      [10 ** 0.5, 10 ** 1.5, 10 ** 2.5, 10 ** 3.5], [10 ** 0.5, 10 ** 1.5, 10 ** 2.5, 10 ** 3.5, 10 ** 4.5],
      '3-methylthiopropyl', '3-methylthiopropionate', (228.7, 1578), (25, 1387), ypad=3.7)

fig.savefig('out.png', dpi=100)
